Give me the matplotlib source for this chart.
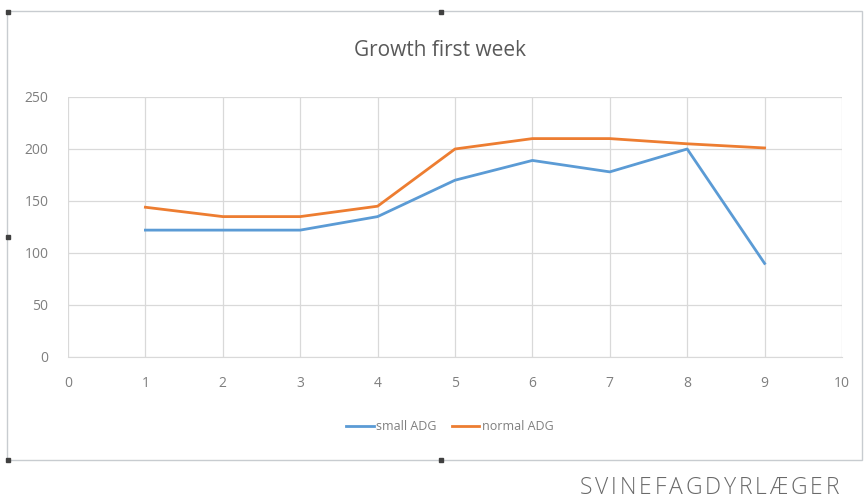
import matplotlib.pyplot as plt
from matplotlib import rcParams
from matplotlib.patches import Rectangle

rcParams['font.family'] = ['Open Sans', 'DejaVu Sans']
rcParams['font.size'] = 10

# data
days = [1, 2, 3, 4, 5, 6, 7, 8, 9]
small_adg = [122, 122, 122, 135, 170, 189, 178, 200, 90]
normal_adg = [144, 135, 135, 145, 200, 210, 210, 205, 201]
x_ticks = [0, 1, 2, 3, 4, 5, 6, 7, 8, 9, 10]
y_ticks = [0, 50, 100, 150, 200, 250]
footer = 'SVINEFAGDYRLÆGER'

c_blue = '#5B9BD5'
c_orange = '#ED7D31'
c_text = '#7f7f7f'
c_grid = '#d9d9d9'

W, H = 865, 500
fig = plt.figure(figsize=(8.65, 5.0), dpi=100)
ax = fig.add_axes([68 / W, 1 - 357 / H, (842 - 68) / W, (357 - 97) / H])

ax.plot(days, small_adg, color=c_blue, lw=2.0, label='small ADG')
ax.plot(days, normal_adg, color=c_orange, lw=2.0, label='normal ADG')

ax.set_xlim(0, 10)
ax.set_ylim(0, 250)
ax.set_xticks(x_ticks)
ax.set_yticks(y_ticks)
ax.grid(True, color=c_grid, lw=0.9)
ax.set_axisbelow(True)
for s in ['top', 'right', 'left']:
    ax.spines[s].set_visible(False)
ax.spines['bottom'].set_color(c_grid)
ax.tick_params(length=0, colors=c_text, labelsize=10)
ax.tick_params(axis='x', pad=14)
ax.tick_params(axis='y', pad=14)

fig.text(440 / W, 1 - 51 / H, 'Growth first week', ha='center', va='center',
         fontsize=15, color='#595959')

ax.legend(loc='center', bbox_to_anchor=(450 / W, 1 - 427 / H), bbox_transform=fig.transFigure,
          ncol=2, frameon=False, fontsize=9, handlelength=2.2, handletextpad=0.2,
          columnspacing=1.2, labelcolor=c_text)

# chart frame + handles
fig.patches.append(Rectangle((7 / W, 1 - 460 / H), (862 - 7) / W, (460 - 11) / H,
                             transform=fig.transFigure, fill=False,
                             edgecolor='#c8ccd0', lw=1.0))
for hx, hy in [(8, 12), (441, 12), (8, 237), (8, 460), (441, 460)]:
    fig.patches.append(Rectangle(((hx - 2) / W, 1 - (hy + 2) / H), 4 / W, 4 / H,
                                 transform=fig.transFigure, color='#404040'))

# footer with letter spacing, drawn letter by letter
renderer = fig.canvas.get_renderer()
x = 580
for ch in footer:
    t = fig.text(x / W, 1 - 488 / H, ch, ha='left', va='center',
                 fontsize=16.5, color='#6a6a6a', fontweight='light')
    x += t.get_window_extent(renderer).width + 2.8

fig.savefig('out.png', dpi=100)
